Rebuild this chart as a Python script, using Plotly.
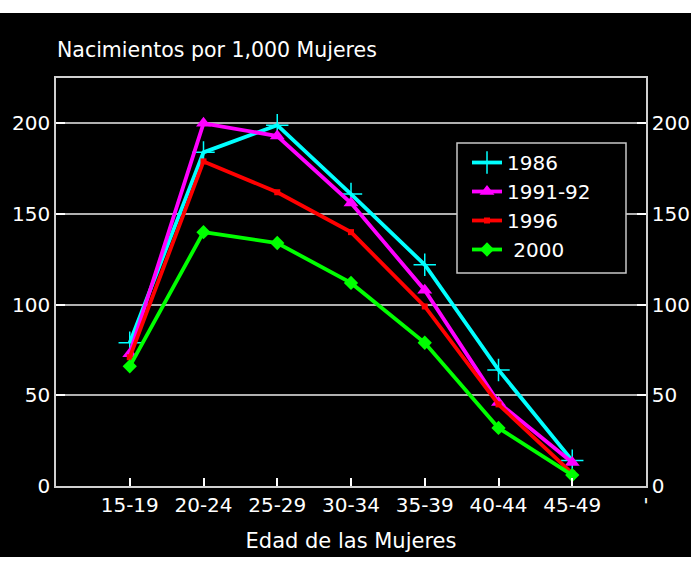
import plotly.graph_objects as go

categories = ["15-19", "20-24", "25-29", "30-34", "35-39", "40-44", "45-49"]
s1986 = [79, 184, 199, 161, 122, 64, 14]
s1991 = [73, 200, 193, 156, 108, 46, 13]
s1996 = [71, 179, 162, 140, 99, 45, 7]
s2000 = [66, 140, 134, 112, 79, 32, 6]
series_names = ["1986", "1991-92", "1996", "\u00a02000"]
yticks = [0, 50, 100, 150, 200]

x = list(range(len(categories)))
tickvals = [-1] + x + [len(categories)]
ticktext = [""] + categories + ["'"]

FONT = "DejaVu Sans, sans-serif"
fig = go.Figure()

styles = [
    dict(color="#00ffff", symbol="cross-thin", size=16, mline=dict(color="#00ffff", width=1.5)),
    dict(color="#ff00ff", symbol="triangle-up", size=13, mline=dict(width=0)),
    dict(color="#ff0000", symbol="square", size=6, mline=dict(width=0)),
    dict(color="#00ff00", symbol="diamond", size=11, mline=dict(width=0)),
]
for name, vals, st in zip(series_names, [s1986, s1991, s1996, s2000], styles):
    fig.add_trace(go.Scatter(
        x=x, y=vals, name=name, mode="lines+markers",
        line=dict(color=st["color"], width=3.8),
        marker=dict(symbol=st["symbol"], size=st["size"], color=st["color"], line=st["mline"]),
    ))

# invisible trace for right axis
fig.add_trace(go.Scatter(x=[x[0]], y=[0], yaxis="y2", showlegend=False,
                         mode="markers", marker=dict(opacity=0), hoverinfo="skip"))

L, R, T, B = 56, 45, 78, 80
W, H = 691, 566
pw, ph = W - L - R, H - T - B


def px(xp):
    return (xp - L) / pw


def py(yp):
    return (H - B - yp) / ph


axis_common = dict(zeroline=False, showline=True, linecolor="#d0d0d0", linewidth=1.5,
                   ticks="inside", tickcolor="white", tickwidth=1.5, automargin=False,
                   tickfont=dict(size=20, color="white", family=FONT))

fig.update_layout(
    width=W, height=H,
    margin=dict(l=L, r=R, t=T, b=B, autoexpand=False),
    paper_bgcolor="black", plot_bgcolor="black",
    font=dict(family=FONT, color="white", size=20),
    showlegend=True,
    legend=dict(x=px(467), y=py(143), xanchor="left", yanchor="top",
                bgcolor="rgba(0,0,0,0)", borderwidth=0,
                font=dict(family=FONT, size=20, color="white"),
                itemwidth=30, tracegroupgap=0),
    xaxis=dict(range=[-1, len(categories)], tickvals=tickvals, ticktext=ticktext,
               showgrid=False, mirror=True, ticklen=8,
               title=dict(text="Edad de las Mujeres", font=dict(size=21, color="white", family=FONT),
                          standoff=18),
               **axis_common),
    yaxis=dict(range=[0, 225], tickvals=yticks, showgrid=True, gridcolor="#b0b0b0", gridwidth=1.5,
               ticklen=9, **axis_common),
    yaxis2=dict(range=[0, 225], tickvals=yticks, overlaying="y", side="right", matches="y",
                showgrid=False, ticklen=9, **axis_common),
    annotations=[dict(text="Nacimientos por 1,000 Mujeres", xref="paper", yref="paper",
                      x=px(55), y=py(50), xanchor="left", yanchor="middle",
                      showarrow=False, font=dict(size=20.5, color="white", family=FONT))],
)

# legend box
fig.add_shape(type="rect", xref="paper", yref="paper", x0=px(457), x1=px(626), y0=py(273), y1=py(143),
              fillcolor="black", line=dict(color="#c8c8c8", width=1.5), layer="above")
# white bands at top (pixels 0..13) and bottom (pixels 557..566)
fig.add_shape(type="rect", xref="paper", yref="paper", x0=px(-20), x1=px(W + 20),
              y0=py(13), y1=py(-5), fillcolor="white", line=dict(width=0), layer="above")
fig.add_shape(type="rect", xref="paper", yref="paper", x0=px(-20), x1=px(W + 20),
              y0=py(575), y1=py(557), fillcolor="white", line=dict(width=0), layer="above")

fig.write_html("out.html", config={"displayModeBar": False},
               post_script="document.body.style.margin='0';document.body.style.overflow='hidden';")
